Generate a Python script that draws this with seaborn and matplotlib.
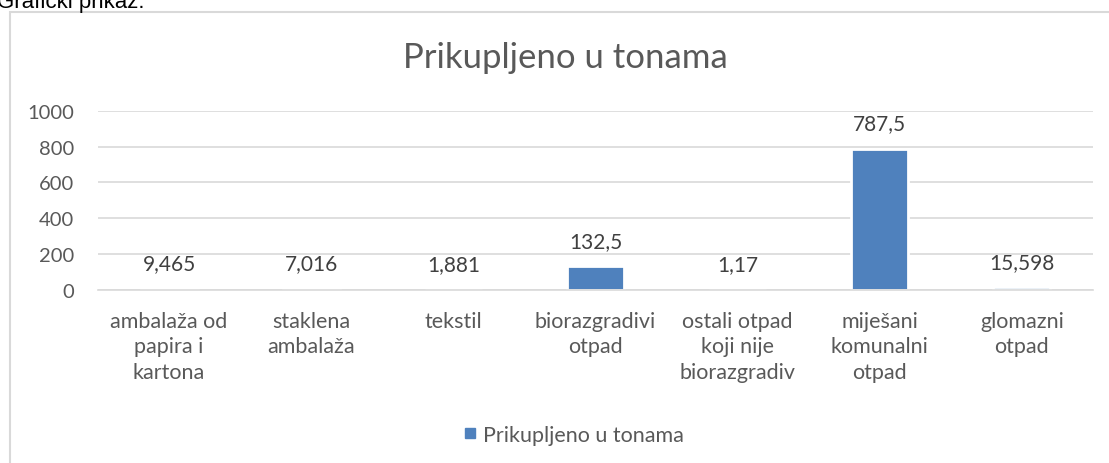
import numpy as np
import pandas as pd
import matplotlib
matplotlib.use('Agg')
import matplotlib.pyplot as plt
import seaborn as sns
from matplotlib.patches import Rectangle
from matplotlib.lines import Line2D

# podaci
kategorije = ['ambalaža od\npapira i\nkartona', 'staklena\nambalaža', 'tekstil',
              'biorazgradivi\notpad', 'ostali otpad\nkoji nije\nbiorazgradiv',
              'miješani\nkomunalni\notpad', 'glomazni\notpad']
tone = [9.465, 7.016, 1.881, 132.5, 1.17, 787.5, 15.598]
naziv_serije = 'Prikupljeno u tonama'
y_ticks = [0, 200, 400, 600, 800, 1000]

df = pd.DataFrame({'kategorija': kategorije, 'tone': tone})

sns.set_theme(style='white')
plt.rcParams['font.family'] = ['Lato', 'DejaVu Sans']

W, H = 1109, 464
fig = plt.figure(figsize=(W / 100, H / 100), dpi=100)
ax = fig.add_axes([98 / W, 1 - 291 / H, (1093 - 98) / W, (291 - 111.7) / H])

# okvir grafikona
fig.patches.append(Rectangle((10 / W, -0.2), 1.2, 1 - 13 / H + 0.2, transform=fig.transFigure,
                             fill=False, edgecolor='#D9D9D9', linewidth=1.5, zorder=0))
fig.text(-3 / W, 1 - 8 / H, 'Grafički prikaz:', fontsize=16, family='Liberation Sans',
         color='black', ha='left', va='baseline')

plava = '#4F81BD'
sns.barplot(data=df, x='kategorija', y='tone', color=plava, width=0.4,
            saturation=1, edgecolor='white', linewidth=2, ax=ax, zorder=3)

oznake = [str(v).replace('.', ',') for v in tone]
ax.bar_label(ax.containers[0], labels=oznake, padding=11, fontsize=15, color='#404040')

ax.set_ylim(0, 1000)
ax.set_xlim(-0.5, len(kategorije) - 0.5)
ax.set_yticks(y_ticks)
ax.set_yticklabels([str(t) for t in y_ticks], fontsize=14.5, color='#595959')
ax.set_xticks(range(len(kategorije)))
ax.set_xticklabels(kategorije, fontsize=15.5, color='#595959', linespacing=1.35)
ax.set_xticks(np.arange(-0.5, len(kategorije)), minor=True)
ax.tick_params(axis='x', which='major', length=0, pad=15)
ax.tick_params(axis='x', which='minor', length=7, color='#D9D9D9', width=1.2, direction='out')
ax.tick_params(axis='y', length=0, pad=17)
ax.set_xlabel('')
ax.set_ylabel('')

ax.yaxis.grid(True, color='#D9D9D9', linewidth=1.2)
ax.set_axisbelow(True)
for s in ['top', 'right', 'left']:
    ax.spines[s].set_visible(False)
ax.spines['bottom'].set_color('#D9D9D9')
ax.spines['bottom'].set_linewidth(1.2)
ax.spines['bottom'].set_zorder(4)

fig.text(565 / W, 1 - 58 / H, naziv_serije, fontsize=25, color='#595959',
         ha='center', va='center')

handle = Line2D([], [], marker='s', linestyle='', markersize=7, color=plava)
fig.legend([handle], [naziv_serije], loc='center', bbox_to_anchor=(572 / W, 1 - 436 / H),
           frameon=False, fontsize=15.5, labelcolor='#595959', handletextpad=0.1,
           handlelength=1)

fig.savefig('out.png', dpi=100)
